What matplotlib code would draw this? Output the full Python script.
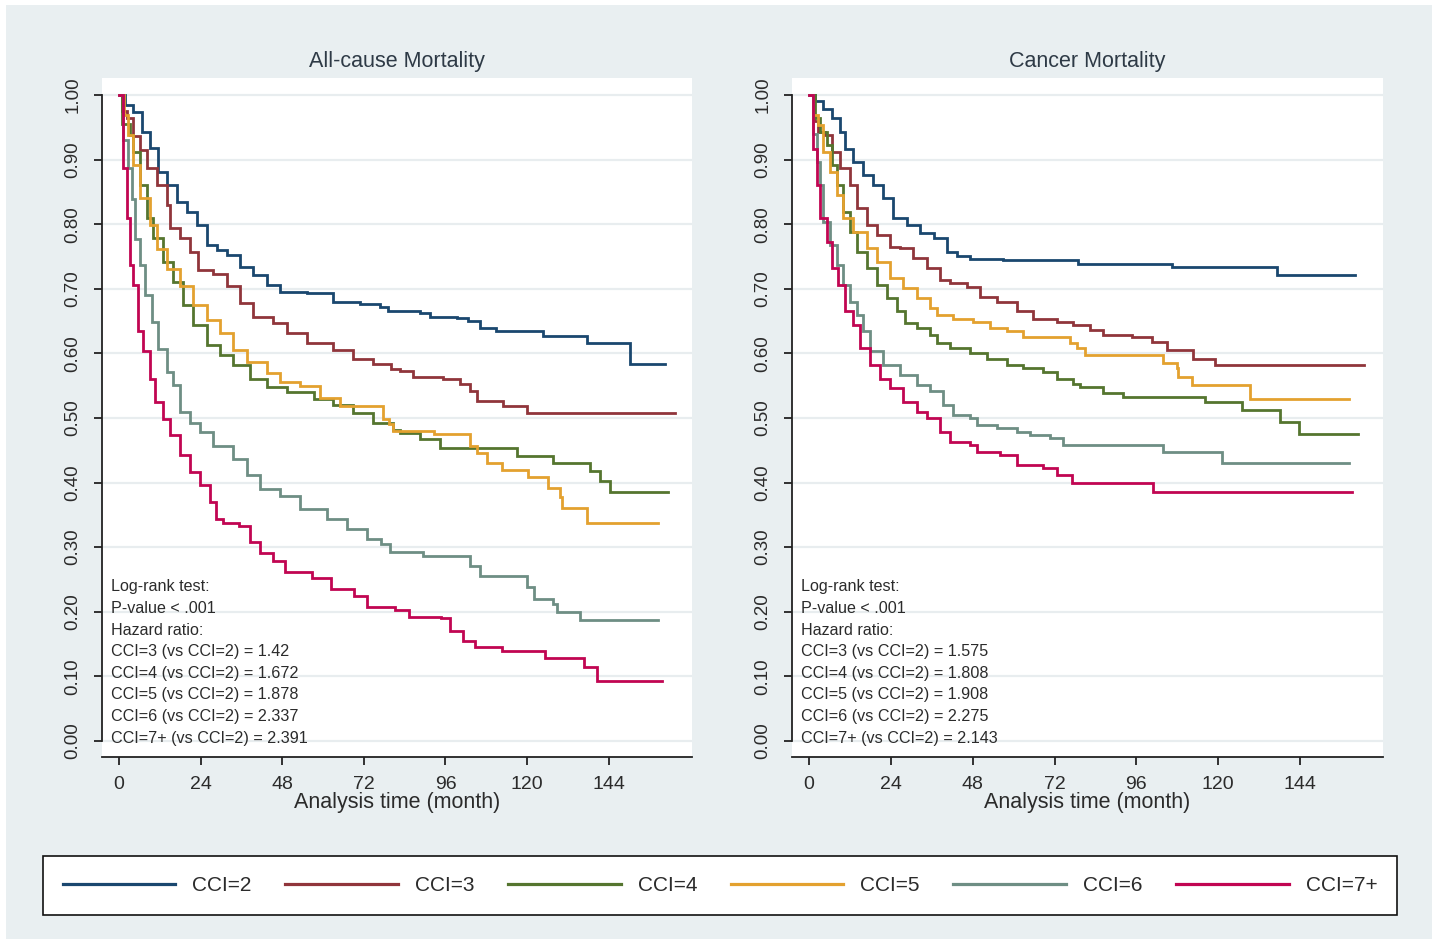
import matplotlib
matplotlib.use("Agg")
import matplotlib.pyplot as plt
from matplotlib.patches import Rectangle

plt.rcParams['font.family'] = ['Liberation Sans', 'DejaVu Sans']

# ---------------- data ----------------
groups = ["CCI=2", "CCI=3", "CCI=4", "CCI=5", "CCI=6", "CCI=7+"]
colors = ["#1A476F", "#90353B", "#55752F", "#E3A12F", "#6E8E84", "#C10552"]

# All-cause mortality: Kaplan-Meier estimates (time in months, survival)
ac_t_2 = [0, 1.8, 4.2, 6.7, 9.1, 11.6, 14, 17, 19.9, 22.8, 25.8, 28.7, 31.7, 35.6, 39.5, 43.4, 47.4,
          55.2, 63, 71, 76.8, 79, 88.5, 91.5, 99.3, 102.7, 106.2, 111, 124.8, 137.5, 150.3, 160.6]
ac_s_2 = [1.0, 0.985, 0.974, 0.943, 0.918, 0.881, 0.861, 0.835, 0.819, 0.799, 0.768, 0.760, 0.752, 0.734,
          0.721, 0.706, 0.695, 0.693, 0.680, 0.677, 0.672, 0.666, 0.663, 0.657, 0.655, 0.650, 0.640, 0.635,
          0.627, 0.616, 0.583, 0.583]
ac_t_3 = [0, 1.0, 2.3, 4.2, 6.2, 8.1, 11.1, 14, 15, 17.9, 20.9, 23.3, 27.7, 31.7, 35.6, 39.5, 45.4, 49.3,
          55.2, 63, 68.9, 74.8, 80, 82.6, 86.6, 95.4, 100.3, 103.2, 105.2, 113, 119.9, 163.5]
ac_s_3 = [1.0, 0.975, 0.964, 0.936, 0.915, 0.887, 0.861, 0.830, 0.794, 0.778, 0.757, 0.729, 0.723, 0.704,
          0.678, 0.657, 0.647, 0.631, 0.616, 0.605, 0.592, 0.583, 0.576, 0.573, 0.564, 0.561, 0.553, 0.542,
          0.526, 0.519, 0.508, 0.508]
ac_t_4 = [0, 1.0, 3.2, 4.2, 6.2, 8.1, 10.1, 13, 16, 18.9, 21.9, 25.8, 29.7, 33.6, 38.5, 43.4, 49.3, 57.2,
          63, 68.9, 74.8, 80.7, 82.6, 88.5, 94.4, 117, 127.7, 138.5, 141.5, 144.4, 161.3]
ac_s_4 = [1.0, 0.955, 0.938, 0.911, 0.861, 0.809, 0.778, 0.742, 0.711, 0.675, 0.644, 0.613, 0.597, 0.582,
          0.561, 0.548, 0.540, 0.530, 0.520, 0.508, 0.493, 0.482, 0.477, 0.467, 0.454, 0.441, 0.431, 0.418,
          0.402, 0.386, 0.386]
ac_t_5 = [0, 1.5, 2.5, 4.2, 6.2, 9.1, 11.1, 14, 17.9, 21.9, 25.8, 29.7, 33.6, 37.6, 43.4, 47.4, 53.2, 59.1,
          65, 77.7, 79.5, 80.7, 92.5, 103.2, 105.2, 108.1, 112.5, 120.4, 126.3, 129.7, 130.2, 137.5, 158.6]
ac_s_5 = [1.0, 0.969, 0.938, 0.892, 0.840, 0.799, 0.761, 0.730, 0.704, 0.675, 0.652, 0.631, 0.606, 0.586,
          0.570, 0.555, 0.549, 0.531, 0.519, 0.498, 0.490, 0.480, 0.475, 0.457, 0.446, 0.431, 0.419, 0.408,
          0.392, 0.377, 0.361, 0.338, 0.338]
ac_t_6 = [0, 1.2, 2.5, 3.7, 4.7, 6.2, 7.6, 9.6, 11.6, 14, 16, 17.9, 20.9, 23.8, 27.7, 33.6, 37.6, 41.5,
          47.4, 53.2, 61.1, 67, 72.9, 77, 79.7, 89.5, 103.2, 106.2, 119.9, 121.9, 127.7, 128.7, 135.6, 158.6]
ac_s_6 = [1.0, 0.93, 0.887, 0.839, 0.777, 0.737, 0.690, 0.649, 0.607, 0.571, 0.551, 0.509, 0.493, 0.478,
          0.457, 0.437, 0.411, 0.390, 0.379, 0.359, 0.343, 0.328, 0.312, 0.305, 0.292, 0.287, 0.271, 0.256,
          0.238, 0.220, 0.212, 0.199, 0.187, 0.187]
ac_t_7 = [0, 1.3, 2.3, 3.2, 4.2, 5.7, 7.1, 9.1, 10.6, 13, 15, 17.9, 20.9, 23.8, 26.8, 28.5, 30.7, 35.2,
          38.5, 41.5, 45.4, 48.7, 56.8, 62.2, 69, 73, 81.1, 85.2, 94.6, 97.4, 101.3, 104.7, 112.5, 125.3,
          136.6, 140.5, 159.6]
ac_s_7 = [1.0, 0.887, 0.809, 0.737, 0.706, 0.634, 0.603, 0.561, 0.525, 0.499, 0.474, 0.443, 0.417, 0.396,
          0.370, 0.344, 0.337, 0.333, 0.308, 0.291, 0.279, 0.262, 0.252, 0.236, 0.224, 0.208, 0.203, 0.192,
          0.190, 0.171, 0.155, 0.145, 0.140, 0.129, 0.114, 0.093, 0.093]

# Cancer mortality
cm_t_2 = [0, 1.8, 4.2, 6.7, 9.1, 10.6, 13, 15.9, 18.9, 21.8, 24.7, 28.6, 32.6, 36.5, 40.4, 43.3, 47.2,
          57, 79, 106.4, 137.1, 160.1]
cm_s_2 = [1.0, 0.990, 0.979, 0.964, 0.943, 0.917, 0.897, 0.876, 0.861, 0.840, 0.809, 0.799, 0.786, 0.778,
          0.757, 0.750, 0.746, 0.744, 0.738, 0.734, 0.721, 0.721]
cm_t_3 = [0, 1.5, 2.7, 4.7, 6.7, 9.1, 12, 14, 16.9, 19.9, 23.8, 26.7, 30.6, 34.5, 38.4, 41.3, 46.2, 50.1,
          55, 60.9, 65.8, 72.6, 77.5, 82.4, 86.3, 94.6, 100.5, 104.9, 112.7, 119.1, 162.8]
cm_s_3 = [1.0, 0.96, 0.943, 0.938, 0.912, 0.887, 0.861, 0.825, 0.799, 0.783, 0.765, 0.763, 0.747, 0.732,
          0.714, 0.709, 0.703, 0.688, 0.680, 0.665, 0.654, 0.649, 0.644, 0.636, 0.628, 0.626, 0.618, 0.605,
          0.592, 0.582, 0.582]
cm_t_4 = [0, 1.8, 3.2, 5.2, 6.7, 8.1, 10.1, 12, 14, 16.9, 19.9, 22.8, 25.7, 28.2, 31.6, 35.5, 37.4, 41.3,
          47.2, 52.1, 58, 62.8, 68.7, 72.6, 77.5, 79.5, 86.3, 92.2, 116.1, 126.9, 138.1, 143.8, 160.9]
cm_s_4 = [1.0, 0.964, 0.943, 0.923, 0.892, 0.861, 0.819, 0.788, 0.757, 0.732, 0.706, 0.685, 0.665, 0.647,
          0.639, 0.628, 0.616, 0.608, 0.600, 0.592, 0.582, 0.577, 0.571, 0.561, 0.553, 0.548, 0.538, 0.533,
          0.525, 0.512, 0.494, 0.475, 0.475]
cm_t_5 = [0, 1.3, 2.5, 4.2, 6.2, 8.1, 10.1, 13, 16.9, 19.9, 23.8, 27.7, 31.6, 35.5, 37.4, 42.3, 48.2, 53.1,
          58, 62.8, 76.5, 78.5, 80.9, 103.9, 107.8, 108.3, 112.2, 129.3, 158.2]
cm_s_5 = [1.0, 0.969, 0.954, 0.912, 0.881, 0.845, 0.809, 0.788, 0.763, 0.742, 0.716, 0.701, 0.685, 0.670,
          0.659, 0.654, 0.648, 0.639, 0.634, 0.626, 0.616, 0.608, 0.598, 0.585, 0.577, 0.564, 0.551, 0.530,
          0.530]
cm_t_6 = [0, 1.2, 2.3, 3.2, 4.2, 6.2, 8.1, 10.1, 12, 14, 15.9, 17.9, 21.8, 26.7, 31.6, 35.5, 39.4, 42.3,
          47.2, 49.2, 55, 60.9, 64.8, 70.7, 74.6, 103.9, 121.2, 158.2]
cm_s_6 = [1.0, 0.94, 0.897, 0.861, 0.804, 0.768, 0.737, 0.706, 0.680, 0.659, 0.634, 0.603, 0.582, 0.567,
          0.551, 0.541, 0.520, 0.505, 0.500, 0.489, 0.484, 0.479, 0.474, 0.469, 0.458, 0.448, 0.430, 0.430]
cm_t_7 = [0, 1.3, 2.3, 3.2, 5.2, 6.7, 8.6, 10.6, 13, 15, 17.9, 20.8, 23.8, 27.7, 31.6, 34.5, 38.4, 41.3,
          47.2, 49.2, 56, 60.9, 68.7, 72.6, 77, 101, 159.1]
cm_s_7 = [1.0, 0.917, 0.861, 0.809, 0.773, 0.732, 0.706, 0.665, 0.644, 0.608, 0.582, 0.561, 0.546, 0.525,
          0.510, 0.500, 0.479, 0.463, 0.458, 0.448, 0.443, 0.427, 0.422, 0.412, 0.399, 0.385, 0.385]

x_ticks = [0, 24, 48, 72, 96, 120, 144]
y_ticks = [0.0, 0.1, 0.2, 0.3, 0.4, 0.5, 0.6, 0.7, 0.8, 0.9, 1.0]
y_tick_labels = ["0.00", "0.10", "0.20", "0.30", "0.40", "0.50", "0.60", "0.70", "0.80", "0.90", "1.00"]

ac_notes = ["Log-rank test:", "P-value < .001", "Hazard ratio:",
            "CCI=3 (vs CCI=2) = 1.42", "CCI=4 (vs CCI=2) = 1.672", "CCI=5 (vs CCI=2) = 1.878",
            "CCI=6 (vs CCI=2) = 2.337", "CCI=7+ (vs CCI=2) = 2.391"]
cm_notes = ["Log-rank test:", "P-value < .001", "Hazard ratio:",
            "CCI=3 (vs CCI=2) = 1.575", "CCI=4 (vs CCI=2) = 1.808", "CCI=5 (vs CCI=2) = 1.908",
            "CCI=6 (vs CCI=2) = 2.275", "CCI=7+ (vs CCI=2) = 2.143"]

panels = [
    ("All-cause Mortality", [(ac_t_2, ac_s_2), (ac_t_3, ac_s_3), (ac_t_4, ac_s_4),
                             (ac_t_5, ac_s_5), (ac_t_6, ac_s_6), (ac_t_7, ac_s_7)], ac_notes),
    ("Cancer Mortality", [(cm_t_2, cm_s_2), (cm_t_3, cm_s_3), (cm_t_4, cm_s_4),
                          (cm_t_5, cm_s_5), (cm_t_6, cm_s_6), (cm_t_7, cm_s_7)], cm_notes),
]

# ---------------- figure ----------------
W, H = 1438, 943
fig = plt.figure(figsize=(W / 100, H / 100), dpi=100, facecolor="white")
fig.patches.append(Rectangle((6 / W, 1 - 939 / H), 1426 / W, 934 / H, transform=fig.transFigure,
                             facecolor="#E9EFF1", edgecolor="none", zorder=-10))

# axes geometry in pixels: (left, right), shared vertical extent
boxes = [(102, 692, (-5.0, 168.5)), (792, 1383, (-4.99, 168.3))]
top_px, bot_px = 78, 757
ylim = (-0.0248, 1.0263)

text_col = "#2B2B2B"
axes = []
for (title, series, notes), (l, r, xlim) in zip(panels, boxes):
    ax = fig.add_axes([l / W, 1 - bot_px / H, (r - l) / W, (bot_px - top_px) / H])
    ax.set_facecolor("white")
    ax.set_xlim(*xlim)
    ax.set_ylim(*ylim)
    for spine in ("top", "right"):
        ax.spines[spine].set_visible(False)
    for spine in ("left", "bottom"):
        ax.spines[spine].set_linewidth(1.3)
        ax.spines[spine].set_color("#222222")
    ax.spines["left"].set_bounds(0, 1)

    ax.set_yticks(y_ticks)
    ax.set_yticklabels(y_tick_labels, rotation=90, va="center", fontsize=13.5, color=text_col)
    ax.set_xticks(x_ticks)
    ax.set_xticklabels([str(v) for v in x_ticks], fontsize=14, color=text_col)
    ax.tick_params(axis="both", direction="out", length=6, width=1.3, color="#222222")
    ax.tick_params(axis="y", pad=9)
    ax.tick_params(axis="x", pad=8)
    ax.grid(axis="y", color="#E8EDEF", linewidth=1.6)
    ax.set_axisbelow(True)

    ax.set_xlabel("Analysis time (month)", fontsize=15.5, color=text_col, labelpad=-1)
    ax.text(0.5, 1 + 16 / 679, title, transform=ax.transAxes, ha="center", va="center",
            fontsize=15.5, color="#2E3A46")

    for (t, s), c in zip(series, colors):
        ax.plot(t, s, drawstyle="steps-post", color=c, linewidth=2.0, solid_joinstyle="miter")

    for i, line in enumerate(notes):
        ax.text(9 / (r - l), (bot_px - 587 - i * 21.6) / 679, line, transform=ax.transAxes,
                ha="left", va="center", fontsize=11.6, color=text_col)
    axes.append(ax)

leg = fig.legend(axes[0].get_lines(), groups, loc="lower left",
                 bbox_to_anchor=(43 / W, 1 - 915 / H, 1354 / W, 60 / H), mode="expand",
                 ncol=6, fontsize=15, handlelength=5.4, handletextpad=0.82, borderpad=0.95,
                 borderaxespad=0, frameon=True, fancybox=False, framealpha=1)
leg.get_frame().set_edgecolor("#111111")
leg.get_frame().set_linewidth(1.2)
for h in leg.legend_handles:
    h.set_linewidth(2.3)
for txt in leg.get_texts():
    txt.set_color(text_col)

fig.savefig("out.png", dpi=100, facecolor=fig.get_facecolor())
